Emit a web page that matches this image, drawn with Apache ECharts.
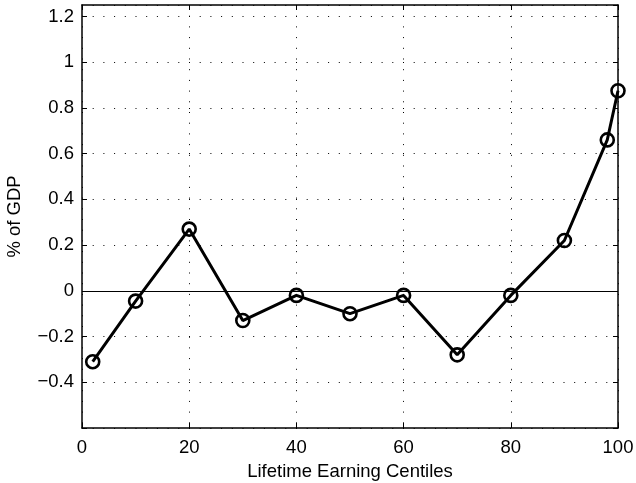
<!DOCTYPE html>
<html>
<head>
<meta charset="utf-8">
<script src="https://cdn.jsdelivr.net/npm/echarts@6/dist/echarts.min.js"></script>
<style>html,body{margin:0;padding:0;background:#fff}#c{width:636px;height:483px}</style>
</head>
<body>
<div id="c"></div>
<script>
const centiles = [2, 10, 20, 30, 40, 50, 60, 70, 80, 90, 98, 100];
const pctGDP = [-0.31, -0.045, 0.27, -0.13, -0.02, -0.10, -0.02, -0.28, -0.02, 0.22, 0.66, 0.875];
const yTickLabels = [-0.4, -0.2, 0, 0.2, 0.4, 0.6, 0.8, 1, 1.2];
const xTickLabels = [0, 20, 40, 60, 80, 100];
const xName = 'Lifetime Earning Centiles';
const yName = '% of GDP';

const font = 'Liberation Sans, Arial, Helvetica, sans-serif';
const fmtY = v => {
  const r = Math.round(v * 100) / 100;
  if (!yTickLabels.some(t => Math.abs(t - r) < 1e-9)) return '';
  return String(r).replace('-', '\u2212');
};
const fmtX = v => xTickLabels.includes(Math.round(v)) ? String(Math.round(v)) : '';
const dotted = { color: '#000', width: 1, type: [1, 9.7] };
const axisLineS = { show: true, onZero: false, lineStyle: { color: '#000', width: 1.5 } };
const tickS = { show: true, inside: true, length: 5, lineStyle: { color: '#000', width: 1 } };
const txt = { fontFamily: font, fontSize: 18.5, color: '#000' };

const chart = echarts.init(document.getElementById('c'), null, { renderer: 'canvas' });
chart.setOption({
  animation: false,
  backgroundColor: '#fff',
  grid: { left: 82, right: 18, top: 5, bottom: 55, containLabel: false, outerBoundsMode: 'none' },
  xAxis: [{
    type: 'value', min: 0, max: 100, interval: 20, position: 'bottom',
    name: xName, nameLocation: 'middle', nameGap: 34,
    nameTextStyle: txt,
    axisLine: axisLineS, axisTick: tickS,
    axisLabel: Object.assign({ formatter: fmtX, margin: 10 }, txt),
    splitLine: { show: true, lineStyle: dotted }
  }, {
    type: 'value', min: 0, max: 100, interval: 20, position: 'top',
    axisLine: axisLineS, axisTick: tickS, axisLabel: { show: false }, splitLine: { show: false }
  }],
  yAxis: [{
    type: 'value', min: -0.6, max: 1.25, interval: 0.2, position: 'left',
    name: yName, nameLocation: 'middle', nameGap: 58, nameRotate: 90,
    nameTextStyle: txt,
    axisLine: axisLineS, axisTick: tickS,
    axisLabel: Object.assign({ formatter: fmtY, margin: 8, showMaxLabel: false }, txt),
    splitLine: { show: true, lineStyle: dotted }
  }, {
    type: 'value', min: -0.6, max: 1.25, interval: 0.2, position: 'right',
    axisLine: axisLineS, axisTick: tickS, axisLabel: { show: false }, splitLine: { show: false }
  }],
  series: [{
    type: 'line',
    data: centiles.map((c, i) => [c, pctGDP[i]]),
    symbol: 'circle', symbolSize: 13,
    lineStyle: { color: '#000', width: 3 },
    itemStyle: { color: 'rgba(255,255,255,0)', borderColor: '#000', borderWidth: 2.6 },
    z: 5,
    markLine: {
      silent: true, symbol: 'none', label: { show: false },
      lineStyle: { color: '#000', width: 1, type: 'solid' },
      data: [{ yAxis: 0 }], z: 3
    }
  }]
});
</script>
</body>
</html>
